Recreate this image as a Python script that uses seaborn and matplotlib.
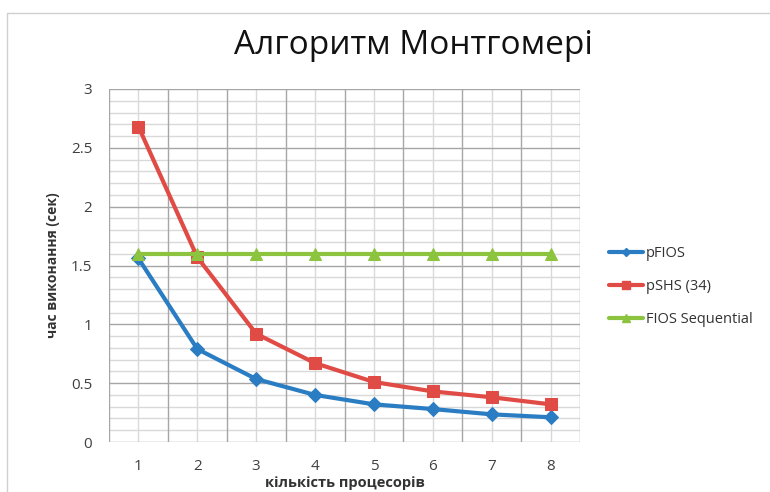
"""
Montgomery algorithm timings, redrawn with seaborn.
"""
import matplotlib
matplotlib.use('Agg')
import matplotlib.pyplot as plt
import seaborn as sns
from matplotlib.lines import Line2D

# Data
PROCS = [1, 2, 3, 4, 5, 6, 7, 8]
PFIOS = [1.56, 0.79, 0.535, 0.40, 0.32, 0.28, 0.235, 0.21]
PSHS = [2.68, 1.57, 0.92, 0.67, 0.51, 0.43, 0.38, 0.32]
FIOS_SEQ = [1.6, 1.6, 1.6, 1.6, 1.6, 1.6, 1.6, 1.6]
SERIES_NAMES = ['pFIOS', 'pSHS (34)', 'FIOS Sequential']
Y_TICKS = [0, 0.5, 1, 1.5, 2, 2.5, 3]

sns.set_style('white')
plt.rcParams['font.family'] = ['Open Sans', 'DejaVu Sans']

FIG = plt.figure(figsize=(7.7, 4.92), dpi=100)
AX = FIG.add_axes([109 / 770, 50 / 492, 471 / 770, 353 / 492])

# Series styles (Excel-like)
STYLES = [
    ('#2a7dc2', 'D', 7),
    ('#e04b45', 's', 9),
    ('#8cc43f', '^', 9),
]

for vals, name, (col, mk, ms) in zip([PFIOS, PSHS, FIOS_SEQ], SERIES_NAMES, STYLES):
    sns.lineplot(x=PROCS, y=vals, ax=AX, color=col, marker=mk, markersize=ms,
                 markeredgecolor=col, linewidth=3, label=name, zorder=3)

# Axes range and ticks
AX.set_xlim(0.5, 8.5)
AX.set_ylim(0, 3)
AX.set_xticks(PROCS)
AX.set_yticks(Y_TICKS)
AX.set_yticklabels([f'{t:g}' for t in Y_TICKS])

# Gridlines: dark on category borders and every 0.5, light elsewhere
AX.grid(False)
for p in PROCS:
    AX.axvline(p, color='#d9d9d9', lw=1, zorder=1)
for p in [p - 0.5 for p in PROCS] + [8.5]:
    AX.axvline(p, color='#a6a6a6', lw=1, zorder=1.2)
for i in range(31):
    major = i % 5 == 0
    AX.axhline(i / 10, color='#a6a6a6' if major else '#d9d9d9', lw=1,
               zorder=1.2 if major else 1)

AX.tick_params(axis='both', which='both', length=0, labelsize=11,
               labelcolor='#404040')
AX.tick_params(axis='x', pad=12)
AX.tick_params(axis='y', pad=12)
for sp in AX.spines.values():
    sp.set_visible(False)

AX.set_xlabel('кількість процесорів', fontsize=10.5, fontweight='bold',
              color='#333333', labelpad=2)
AX.set_ylabel('час виконання (сек)', fontsize=10, fontweight='bold',
              color='#333333', labelpad=8)

# Legend outside on the right
HANDLES = [Line2D([0], [0], color=c, marker=m, markersize=s * 0.6, lw=3)
           for c, m, s in STYLES]
AX.legend(HANDLES, SERIES_NAMES, loc='center left', bbox_to_anchor=(1.05, 0.44),
          frameon=False, fontsize=10.5, handlelength=2.3, handletextpad=0.2,
          labelspacing=1.25, borderaxespad=0, labelcolor='#333333')

FIG.text(413 / 770, 1 - 46 / 492, 'Алгоритм Монтгомері', ha='center',
         va='center', fontsize=24, color='#111111')

# Chart area border
FIG.add_artist(Line2D([7 / 770, 1], [1 - 13 / 492, 1 - 13 / 492],
                      color='#d0d0d0', lw=1, transform=FIG.transFigure))
FIG.add_artist(Line2D([7 / 770, 7 / 770], [0, 1 - 13 / 492],
                      color='#d0d0d0', lw=1, transform=FIG.transFigure))

FIG.savefig('out.png', dpi=100)
